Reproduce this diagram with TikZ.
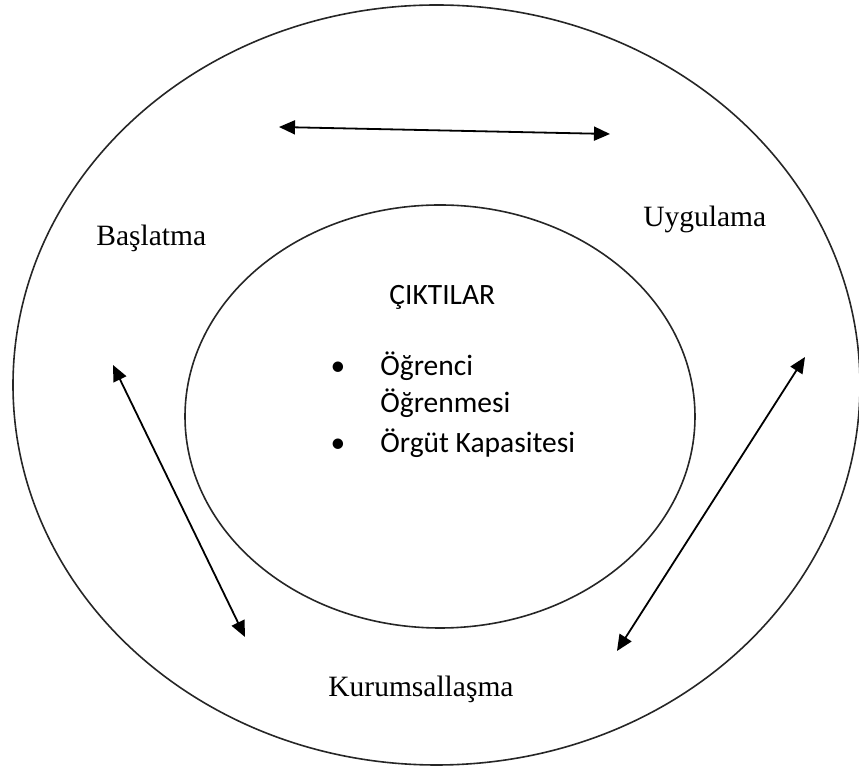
\documentclass[tikz,border=0pt]{standalone}
\usepackage{fontspec}
\setmainfont{Liberation Serif}
\newfontfamily\calib{Carlito}
\usetikzlibrary{arrows.meta}
\begin{document}
\begin{tikzpicture}[x=0.5pt,y=-0.5pt,
  ring/.style={draw=black!85,line width=0.8pt},
  link/.style={line width=0.9pt,{Triangle[length=8pt,width=7pt]}-{Triangle[length=8pt,width=7pt]}},
  stage/.style={font=\fontsize{14.75}{17}\selectfont,inner sep=0pt,anchor=base west},
  outtext/.style={font=\calib\fontsize{14.75}{17}\selectfont,inner sep=0pt,anchor=base west},
  dot/.style={font=\calib\fontsize{14.75}{17}\selectfont,inner sep=0pt,anchor=base}]
\useasboundingbox (0,0) rectangle (859,769);
% rings
\draw[ring] (436.5,385) ellipse [x radius=423.5, y radius=380];
\draw[ring] (440,416.5) ellipse [x radius=255, y radius=211.5];
% stage labels
\node[stage] (bas) at (96,246) {Başlatma};
\node[stage] (uyg) at (643,227) {Uygulama};
\node[stage] (kur) at (328,697) {Kurumsallaşma};
% outcomes
\node[outtext] (cik) at (389,305) {ÇIKTILAR};
\node[dot] (d1) at (338,376) {•};
\node[outtext] (o1) at (380,376) {Öğrenci};
\node[outtext] (o2) at (380,412.5) {Öğrenmesi};
\node[dot] (d2) at (338,452.5) {•};
\node[outtext] (o3) at (380,452.5) {Örgüt Kapasitesi};
% arrow ends
\coordinate (ta) at (279,127);
\coordinate (tb) at (610,134);
\coordinate (la) at (113,365);
\coordinate (lb) at (245,637);
\coordinate (ra) at (805,357);
\coordinate (rb) at (617,651);
\draw[link] (ta) -- (tb);
\draw[link] (la) -- (lb);
\draw[link] (ra) -- (rb);
\end{tikzpicture}
\end{document}
